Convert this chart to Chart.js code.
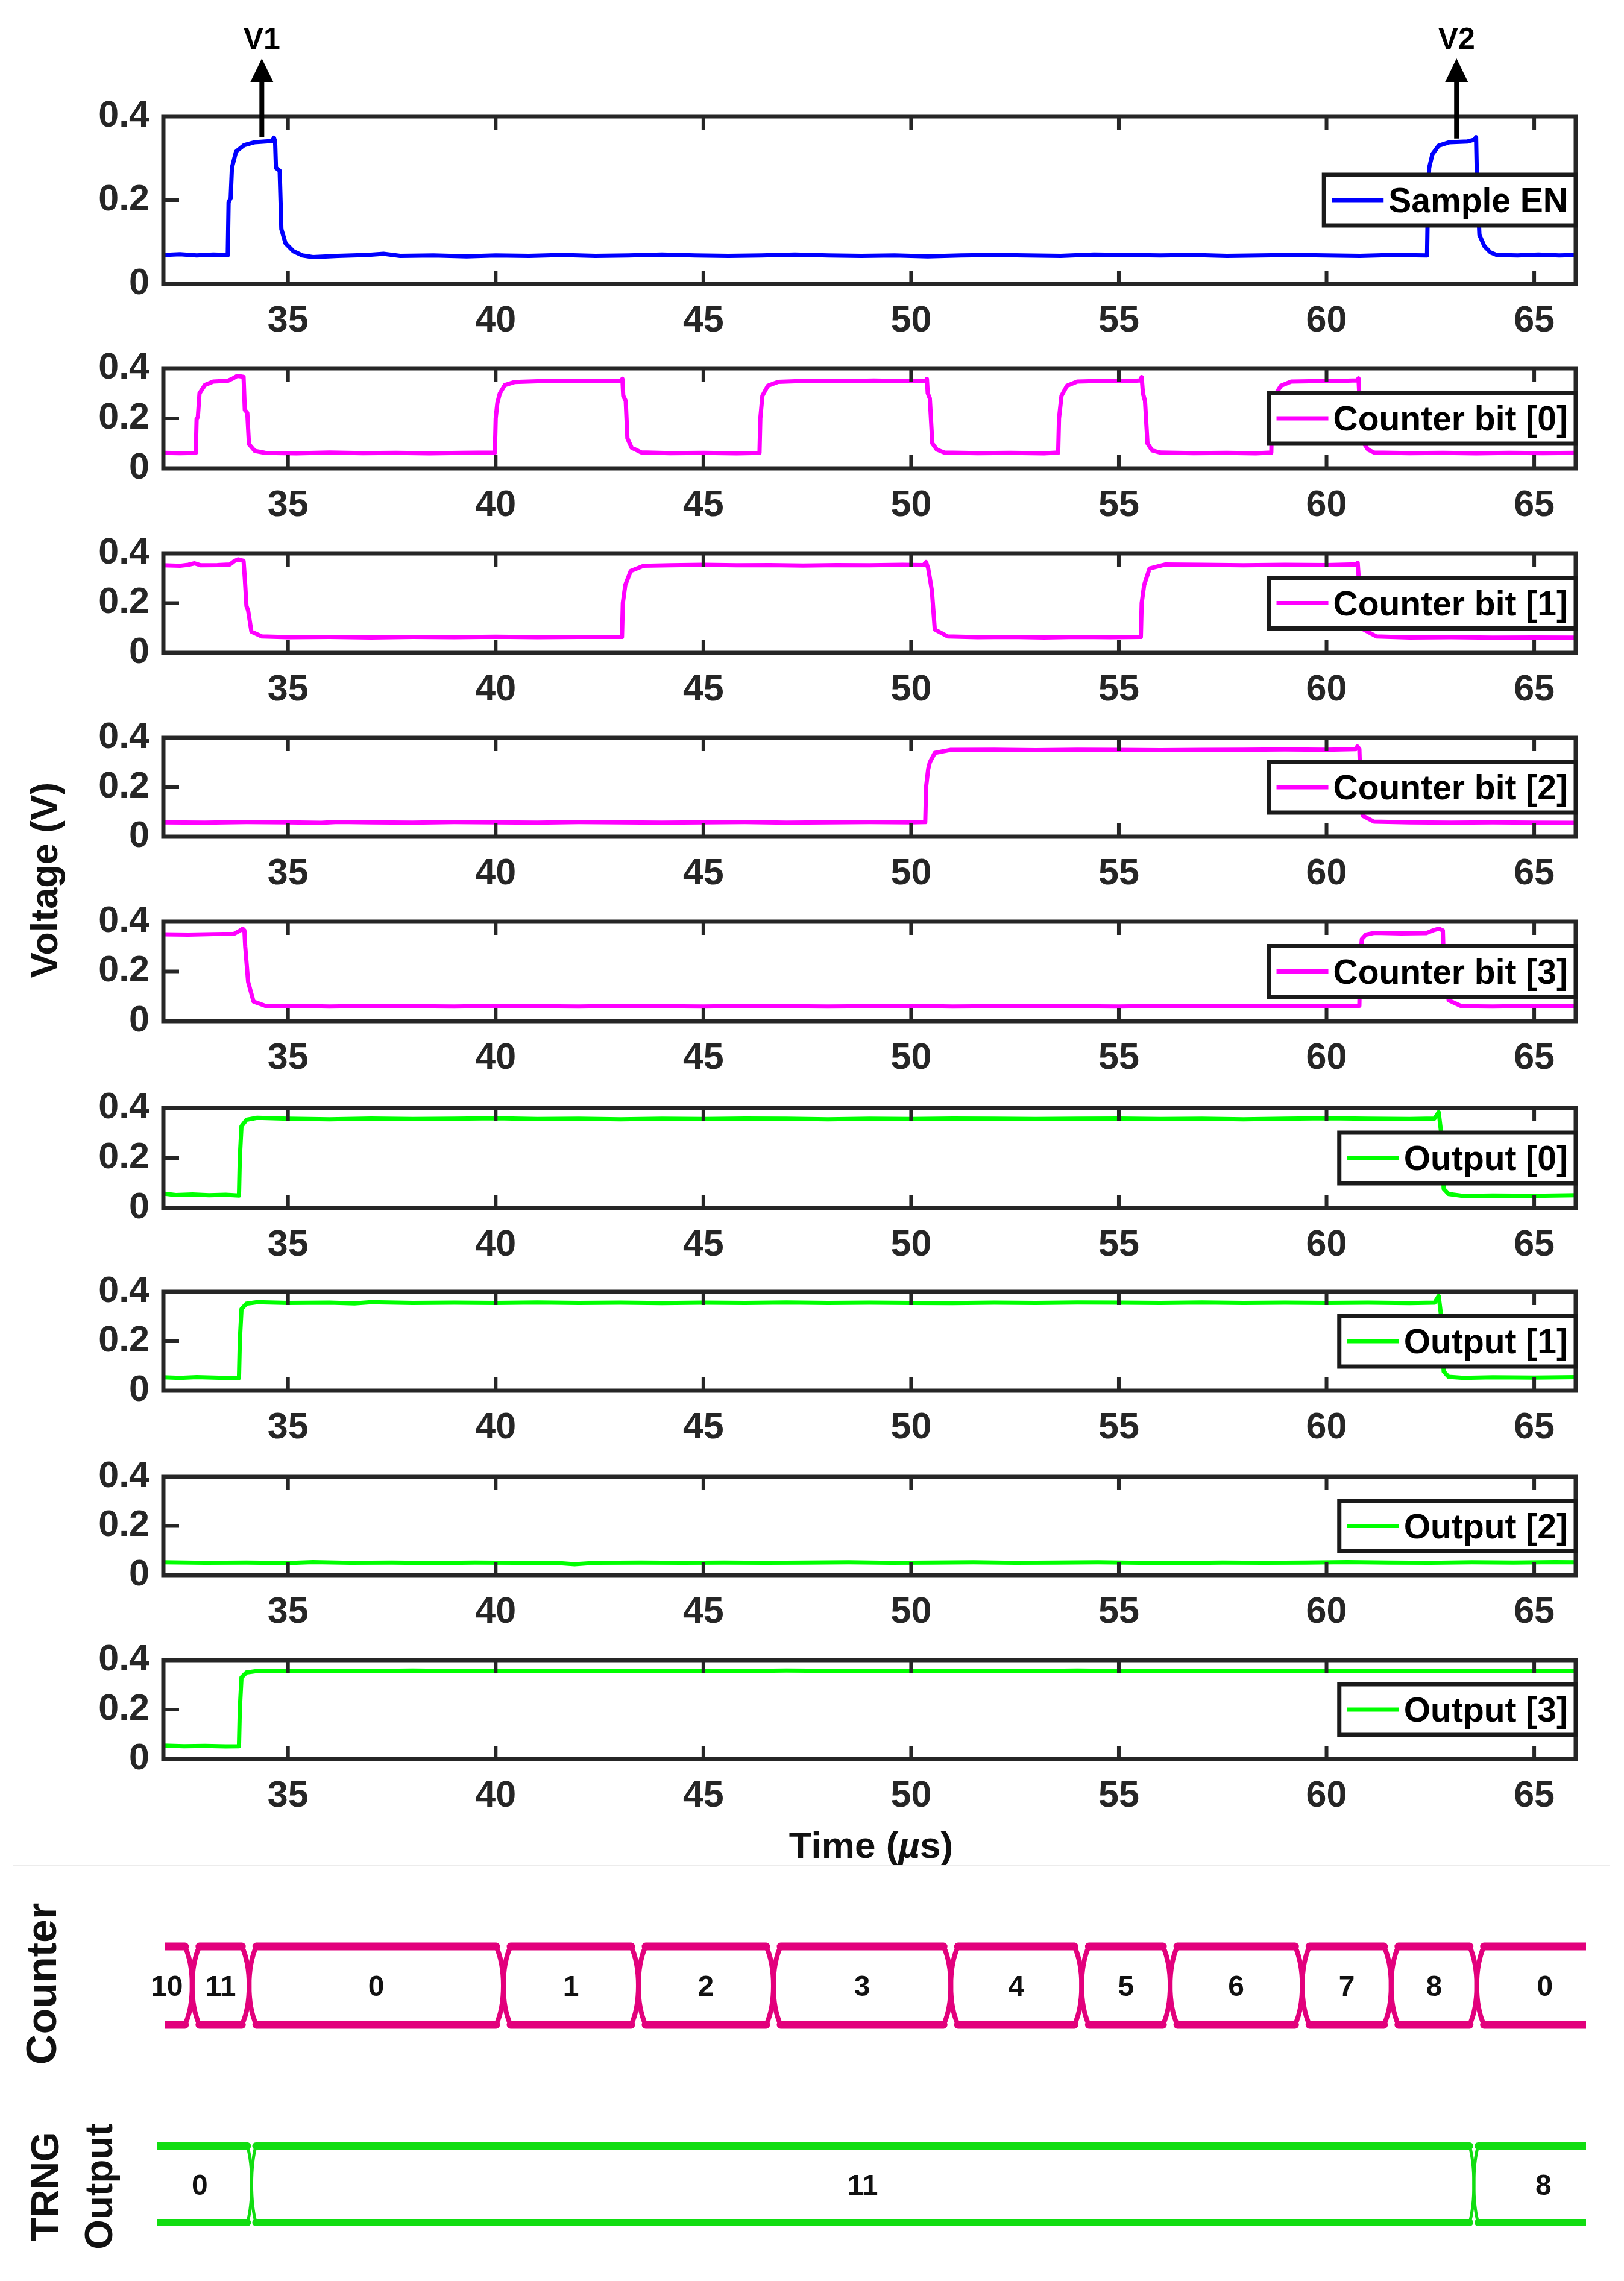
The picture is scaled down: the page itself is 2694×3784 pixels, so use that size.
<!DOCTYPE html>
<html>
<head>
<meta charset="utf-8">
<title>TRNG counter / output waveforms</title>
<script src="https://cdn.jsdelivr.net/npm/chart.js@4.4.1/dist/chart.umd.min.js"></script>
<style>
  html, body { margin: 0; padding: 0; background: #fff; }
  body { position: relative; width: 2694px; height: 3784px; overflow: hidden;
         font-family: "Liberation Sans", Arial, sans-serif; }
  canvas { position: absolute; left: 0; }
  .txt { position: absolute; font-weight: bold; color: #111; white-space: nowrap; }
  .vert { transform: translate(-50%, -50%) rotate(-90deg); text-align: center; }
</style>
</head>
<body>
<div class="txt vert" style="left:73px;top:1460px;font-size:63px;">Voltage (V)</div>
<div class="txt" style="left:1445px;top:3060px;font-size:62px;transform:translate(-50%,-50%);">Time (<i>µ</i>s)</div>
<div style="position:absolute;left:21px;top:3094px;width:2650px;height:2px;background:#ececec;"></div>
<div class="txt vert" style="left:69px;top:3291px;font-size:70px;">Counter</div>
<div class="txt vert" style="left:120px;top:3627px;font-size:64px;line-height:89px;">TRNG<br>Output</div>

<script>
/* -------------------- DATA -------------------- */
const xTicks = [35, 40, 45, 50, 55, 60, 65];
const yTicks = [0, 0.2, 0.4];
const yTickLabels = ["0", "0.2", "0.4"];

// [time (us), voltage (V)]
const sampleEn = [[32.00,0.069],[32.40,0.071],[32.80,0.068],[33.20,0.070],[33.55,0.069],[33.57,0.195],[33.62,0.205],[33.65,0.277],[33.75,0.316],[33.94,0.331],[34.19,0.338],[34.45,0.340],[34.62,0.341],[34.66,0.349],[34.69,0.340],[34.71,0.277],[34.80,0.270],[34.84,0.131],[34.94,0.097],[35.13,0.078],[35.35,0.068],[35.60,0.064],[36.20,0.067],[36.90,0.069],[37.30,0.072],[37.70,0.067],[38.50,0.068],[39.30,0.066],[40.00,0.068],[40.80,0.067],[41.60,0.069],[42.40,0.067],[43.20,0.068],[44.00,0.070],[44.80,0.068],[45.60,0.067],[46.40,0.068],[47.20,0.070],[48.00,0.068],[48.80,0.067],[49.60,0.068],[50.40,0.066],[51.20,0.068],[52.00,0.069],[52.80,0.068],[53.60,0.067],[54.40,0.070],[55.20,0.069],[56.00,0.068],[56.80,0.069],[57.60,0.067],[58.40,0.068],[59.20,0.069],[60.00,0.068],[60.80,0.067],[61.60,0.069],[62.42,0.068],[62.44,0.200],[62.47,0.277],[62.55,0.310],[62.70,0.330],[62.95,0.338],[63.40,0.340],[63.55,0.344],[63.60,0.350],[63.62,0.250],[63.68,0.117],[63.80,0.090],[63.95,0.075],[64.10,0.069],[64.60,0.068],[65.10,0.070],[65.60,0.068],[66.00,0.069]];

const counterBit0 = [[32.00,0.062],[32.40,0.061],[32.78,0.062],[32.80,0.198],[32.83,0.205],[32.87,0.300],[33.00,0.333],[33.20,0.347],[33.55,0.350],[33.68,0.360],[33.78,0.370],[33.93,0.366],[33.96,0.234],[34.02,0.222],[34.06,0.097],[34.20,0.070],[34.45,0.062],[35.20,0.060],[36.00,0.063],[36.80,0.061],[37.60,0.062],[38.40,0.060],[39.20,0.062],[39.98,0.063],[40.00,0.200],[40.04,0.262],[40.10,0.300],[40.22,0.333],[40.45,0.345],[41.00,0.348],[41.80,0.350],[42.60,0.348],[43.02,0.350],[43.05,0.358],[43.07,0.290],[43.13,0.270],[43.17,0.120],[43.27,0.083],[43.50,0.064],[44.20,0.061],[45.00,0.062],[45.80,0.060],[46.35,0.062],[46.37,0.200],[46.42,0.290],[46.55,0.330],[46.80,0.346],[47.50,0.350],[48.30,0.348],[49.10,0.351],[49.90,0.349],[50.35,0.350],[50.38,0.358],[50.40,0.300],[50.45,0.280],[50.51,0.100],[50.62,0.075],[50.80,0.063],[51.60,0.061],[52.40,0.062],[53.20,0.060],[53.54,0.063],[53.56,0.200],[53.62,0.290],[53.75,0.330],[54.00,0.347],[54.70,0.350],[55.30,0.349],[55.52,0.352],[55.55,0.365],[55.58,0.300],[55.63,0.270],[55.69,0.100],[55.80,0.072],[56.00,0.063],[56.80,0.061],[57.60,0.062],[58.30,0.060],[58.67,0.063],[58.69,0.210],[58.75,0.290],[58.90,0.330],[59.15,0.347],[59.80,0.349],[60.40,0.350],[60.74,0.352],[60.77,0.360],[60.79,0.290],[60.86,0.270],[60.90,0.100],[61.00,0.075],[61.15,0.063],[62.00,0.061],[62.80,0.062],[63.60,0.060],[64.40,0.062],[65.20,0.061],[66.00,0.062]];

const counterBit1 = [[32.00,0.352],[32.40,0.350],[32.60,0.354],[32.75,0.360],[32.90,0.352],[33.30,0.353],[33.60,0.355],[33.70,0.368],[33.80,0.376],[33.93,0.370],[33.96,0.300],[34.00,0.188],[34.04,0.170],[34.12,0.085],[34.37,0.066],[35.00,0.063],[36.00,0.064],[37.00,0.062],[38.00,0.064],[39.00,0.063],[40.00,0.065],[41.00,0.063],[42.00,0.064],[43.04,0.064],[43.06,0.200],[43.12,0.273],[43.25,0.329],[43.56,0.350],[44.20,0.352],[45.00,0.354],[45.80,0.352],[46.60,0.353],[47.40,0.351],[48.20,0.353],[49.00,0.352],[49.80,0.354],[50.30,0.353],[50.36,0.365],[50.41,0.340],[50.45,0.301],[50.50,0.250],[50.57,0.094],[50.88,0.066],[51.60,0.063],[52.40,0.064],[53.20,0.062],[54.00,0.064],[54.80,0.063],[55.53,0.064],[55.55,0.200],[55.61,0.273],[55.74,0.339],[56.11,0.355],[57.00,0.354],[58.00,0.352],[59.00,0.354],[60.00,0.353],[60.72,0.356],[60.75,0.362],[60.78,0.290],[60.84,0.270],[60.89,0.094],[61.20,0.066],[62.00,0.062],[63.00,0.063],[64.00,0.061],[65.00,0.062],[66.00,0.061]];

const counterBit2 = [[32.00,0.058],[33.00,0.057],[34.00,0.059],[35.00,0.058],[35.80,0.056],[36.20,0.060],[37.00,0.058],[38.00,0.057],[39.00,0.059],[40.00,0.058],[41.00,0.057],[42.00,0.059],[43.00,0.058],[44.00,0.057],[45.00,0.058],[46.00,0.059],[47.00,0.057],[48.00,0.058],[49.00,0.059],[50.00,0.058],[50.34,0.059],[50.36,0.200],[50.41,0.273],[50.45,0.301],[50.57,0.339],[50.94,0.351],[52.00,0.352],[53.00,0.350],[54.00,0.352],[55.00,0.351],[56.00,0.350],[57.00,0.351],[58.00,0.352],[59.00,0.353],[60.00,0.352],[60.70,0.354],[60.74,0.365],[60.79,0.355],[60.81,0.250],[60.87,0.085],[61.14,0.061],[62.00,0.058],[63.00,0.057],[64.00,0.058],[65.00,0.057],[66.00,0.056]];

const counterBit3 = [[32.00,0.349],[32.60,0.348],[33.20,0.350],[33.70,0.351],[33.85,0.365],[33.91,0.372],[33.95,0.365],[33.97,0.300],[34.04,0.158],[34.17,0.079],[34.48,0.060],[35.20,0.061],[36.00,0.059],[37.00,0.061],[38.00,0.060],[39.00,0.059],[40.00,0.061],[41.00,0.060],[42.00,0.059],[43.00,0.061],[44.00,0.060],[45.00,0.059],[46.00,0.061],[47.00,0.060],[48.00,0.059],[49.00,0.060],[50.00,0.061],[51.00,0.059],[52.00,0.060],[53.00,0.061],[54.00,0.060],[55.00,0.059],[56.00,0.061],[57.00,0.060],[58.00,0.062],[59.00,0.060],[60.00,0.061],[60.79,0.062],[60.81,0.250],[60.85,0.330],[60.95,0.348],[61.15,0.355],[61.80,0.353],[62.40,0.354],[62.56,0.365],[62.70,0.372],[62.80,0.365],[62.82,0.250],[62.94,0.084],[63.25,0.060],[64.00,0.059],[65.00,0.061],[66.00,0.060]];

const output0 = [[32.00,0.058],[32.30,0.052],[32.70,0.054],[33.10,0.051],[33.50,0.053],[33.82,0.050],[33.84,0.200],[33.88,0.327],[34.00,0.353],[34.26,0.361],[35.00,0.357],[36.00,0.355],[37.00,0.358],[38.00,0.356],[39.00,0.357],[40.00,0.359],[41.00,0.356],[42.00,0.357],[43.00,0.355],[44.00,0.357],[45.00,0.356],[46.00,0.358],[47.00,0.357],[48.00,0.355],[49.00,0.357],[50.00,0.356],[51.00,0.358],[52.00,0.357],[53.00,0.356],[54.00,0.357],[55.00,0.358],[56.00,0.356],[57.00,0.357],[58.00,0.355],[59.00,0.357],[60.00,0.359],[61.00,0.357],[62.00,0.356],[62.60,0.358],[62.70,0.383],[62.76,0.300],[62.82,0.077],[62.94,0.056],[63.30,0.048],[64.00,0.050],[65.00,0.049],[66.00,0.051]];

const output1 = [[32.00,0.054],[32.40,0.052],[32.80,0.055],[33.20,0.053],[33.60,0.051],[33.82,0.052],[33.84,0.200],[33.88,0.330],[34.00,0.352],[34.26,0.358],[35.00,0.355],[36.00,0.356],[36.60,0.353],[37.00,0.358],[38.00,0.355],[39.00,0.356],[40.00,0.355],[41.00,0.357],[42.00,0.355],[43.00,0.356],[44.00,0.354],[45.00,0.356],[46.00,0.355],[47.00,0.357],[48.00,0.355],[49.00,0.356],[50.00,0.355],[51.00,0.354],[52.00,0.356],[53.00,0.355],[54.00,0.357],[55.00,0.356],[56.00,0.355],[57.00,0.357],[58.00,0.355],[59.00,0.356],[60.00,0.355],[61.00,0.356],[62.00,0.354],[62.60,0.356],[62.70,0.383],[62.76,0.300],[62.82,0.078],[62.94,0.056],[63.30,0.052],[64.00,0.054],[65.00,0.053],[66.00,0.055]];

const output2 = [[32.00,0.052],[33.00,0.050],[34.00,0.051],[35.00,0.049],[35.60,0.053],[36.50,0.050],[37.50,0.051],[38.50,0.049],[39.50,0.051],[40.50,0.050],[41.50,0.049],[41.90,0.044],[42.40,0.050],[43.50,0.051],[44.50,0.050],[45.50,0.051],[46.50,0.050],[47.50,0.051],[48.50,0.052],[49.50,0.050],[50.50,0.051],[51.50,0.052],[52.50,0.050],[53.50,0.051],[54.50,0.052],[55.50,0.050],[56.50,0.049],[57.50,0.051],[58.50,0.050],[59.50,0.051],[60.50,0.053],[61.50,0.051],[62.50,0.050],[63.50,0.052],[64.50,0.051],[65.50,0.053],[66.00,0.052]];

const output3 = [[32.00,0.054],[32.50,0.052],[33.00,0.053],[33.50,0.051],[33.82,0.052],[33.84,0.200],[33.88,0.330],[34.00,0.350],[34.26,0.356],[35.00,0.355],[36.00,0.357],[37.00,0.356],[38.00,0.358],[39.00,0.356],[40.00,0.355],[41.00,0.357],[42.00,0.356],[43.00,0.357],[44.00,0.355],[45.00,0.357],[46.00,0.356],[47.00,0.358],[48.00,0.357],[49.00,0.356],[50.00,0.357],[51.00,0.355],[52.00,0.357],[53.00,0.356],[54.00,0.358],[55.00,0.356],[56.00,0.357],[57.00,0.356],[58.00,0.357],[59.00,0.355],[60.00,0.357],[61.00,0.356],[62.00,0.357],[63.00,0.356],[64.00,0.357],[65.00,0.355],[66.00,0.357]];

// sampling markers on the Sample EN trace
const markerTimes = [34.37, 63.13];
const markerLabels = ["V1", "V2"];
const markerBase = [0.350, 0.347];

// bus diagram: state change times (us) and the state held between them
const counterEdges = [31.47, 32.69, 34.06, 40.18, 43.43, 46.68, 50.95, 54.10, 56.23, 59.41, 61.55, 63.61, 66.89];
const counterValues = ["10", "11", "0", "1", "2", "3", "4", "5", "6", "7", "8", "0"];
const trngEdges = [31.62, 34.12, 63.54, 66.89];
const trngValues = ["0", "11", "8"];

/* -------------------- LAYOUT -------------------- */
const PAGE_W = 2694;
const PLOT_L = 271, PLOT_R = 2614;
const AXIS_H = 110;
const ink = "#262626";
const FONT = '"Liberation Sans", Arial, sans-serif';
const tickFont = { family: FONT, size: 61, weight: "bold" };

const panels = [
  { label: "Sample EN",       color: "#0000ff", data: sampleEn,    top: 193,  height: 278 },
  { label: "Counter bit [0]", color: "#ff00ff", data: counterBit0, top: 611,  height: 166 },
  { label: "Counter bit [1]", color: "#ff00ff", data: counterBit1, top: 918,  height: 165 },
  { label: "Counter bit [2]", color: "#ff00ff", data: counterBit2, top: 1224, height: 164 },
  { label: "Counter bit [3]", color: "#ff00ff", data: counterBit3, top: 1529, height: 165 },
  { label: "Output [0]",      color: "#00ff00", data: output0,     top: 1838, height: 166 },
  { label: "Output [1]",      color: "#00ff00", data: output1,     top: 2143, height: 164 },
  { label: "Output [2]",      color: "#00ff00", data: output2,     top: 2450, height: 163 },
  { label: "Output [3]",      color: "#00ff00", data: output3,     top: 2754, height: 164 }
];

Chart.defaults.font.family = FONT;

/* -------------------- AXES BOX / LEGEND / MARKERS -------------------- */
const matlabPlugin = {
  id: "matlab",
  afterDraw(chart, args, opts) {
    const { ctx, chartArea: a, scales: { x, y } } = chart;
    ctx.save();

    // inward ticks
    ctx.strokeStyle = ink;
    ctx.lineWidth = 6;
    ctx.beginPath();
    xTicks.forEach(v => {
      const px = x.getPixelForValue(v);
      ctx.moveTo(px, a.bottom); ctx.lineTo(px, a.bottom - 22);
      ctx.moveTo(px, a.top); ctx.lineTo(px, a.top + 22);
    });
    yTicks.forEach(v => {
      const py = y.getPixelForValue(v);
      ctx.moveTo(a.left, py); ctx.lineTo(a.left + 26, py);
    });
    ctx.stroke();

    // box
    ctx.lineWidth = 7;
    ctx.strokeRect(a.left, a.top, a.right - a.left, a.bottom - a.top);

    // legend, east
    const ds = chart.data.datasets[0];
    ctx.font = "bold 57px " + FONT;
    const tw = ctx.measureText(ds.label).width;
    const w = 13 + 86 + 8 + tw + 13, h = 84;
    const left = a.right - w, mid = (a.top + a.bottom) / 2, top = mid - h / 2;
    ctx.fillStyle = "#fff";
    ctx.fillRect(left, top, w, h);
    ctx.strokeStyle = "#1a1a1a";
    ctx.lineWidth = 7;
    ctx.strokeRect(left, top, w, h);
    ctx.strokeStyle = ds.borderColor;
    ctx.beginPath();
    ctx.moveTo(left + 13, mid); ctx.lineTo(left + 99, mid);
    ctx.stroke();
    ctx.fillStyle = "#000";
    ctx.textAlign = "left";
    ctx.textBaseline = "alphabetic";
    ctx.fillText(ds.label, left + 107, mid + 20);

    // V1 / V2 arrows
    if (opts.markers) {
      ctx.fillStyle = "#000";
      ctx.strokeStyle = "#000";
      ctx.font = "bold 50px " + FONT;
      ctx.textAlign = "center";
      markerTimes.forEach((t, i) => {
        const px = x.getPixelForValue(t);
        const py = y.getPixelForValue(markerBase[i]);
        ctx.lineWidth = 8;
        ctx.beginPath();
        ctx.moveTo(px, py); ctx.lineTo(px, a.top - 60);
        ctx.stroke();
        ctx.beginPath();
        ctx.moveTo(px, a.top - 96);
        ctx.lineTo(px - 19, a.top - 57);
        ctx.lineTo(px + 19, a.top - 57);
        ctx.closePath();
        ctx.fill();
        ctx.fillText(markerLabels[i], px, a.top - 112);
      });
    }
    ctx.restore();
  }
};

/* -------------------- WAVEFORM PANELS -------------------- */
panels.forEach((p, i) => {
  const padTop = i === 0 ? p.top : 60;
  const cv = document.createElement("canvas");
  cv.width = PAGE_W;
  cv.height = padTop + p.height + AXIS_H;
  cv.style.top = (p.top - padTop) + "px";
  document.body.appendChild(cv);

  new Chart(cv, {
    type: "line",
    data: {
      datasets: [{
        label: p.label,
        data: p.data.map(([x, y]) => ({ x, y })),
        borderColor: p.color,
        borderWidth: 7,
        pointRadius: 0,
        tension: 0,
        borderJoinStyle: "round",
        borderCapStyle: "round"
      }]
    },
    options: {
      responsive: false,
      animation: false,
      devicePixelRatio: 1,
      layout: { padding: { top: padTop, right: PAGE_W - PLOT_R, bottom: 0, left: 0 } },
      plugins: {
        legend: { display: false },
        tooltip: { enabled: false },
        matlab: { markers: i === 0 }
      },
      scales: {
        x: {
          type: "linear", min: 32, max: 66,
          afterBuildTicks: s => { s.ticks = xTicks.map(v => ({ value: v })); },
          afterFit: s => { s.height = AXIS_H; },
          grid: { display: false, drawTicks: false },
          border: { display: false },
          ticks: { font: tickFont, color: ink, padding: 26, maxRotation: 0, autoSkip: false,
                   callback: v => String(v) }
        },
        y: {
          min: 0, max: 0.4,
          afterBuildTicks: s => { s.ticks = yTicks.map(v => ({ value: v })); },
          afterFit: s => { s.width = PLOT_L; },
          grid: { display: false, drawTicks: false },
          border: { display: false },
          ticks: { font: tickFont, color: ink, padding: 23,
                   callback: (v, idx) => yTickLabels[idx] }
        }
      }
    },
    plugins: [matlabPlugin]
  });
});

/* -------------------- BUS DIAGRAM -------------------- */
const busPlugin = {
  id: "bus",
  afterDraw(chart, args, o) {
    const { ctx, chartArea: a, scales: { x, y } } = chart;
    const top = y.getPixelForValue(1), bot = y.getPixelForValue(0), mid = (top + bot) / 2;
    const px = o.edges.map(t => x.getPixelForValue(t));
    const h = o.skew, k = (bot - top) * 0.2;
    ctx.save();
    ctx.beginPath();
    ctx.rect(a.left, 0, a.right - a.left, chart.height);
    ctx.clip();
    ctx.strokeStyle = o.color;
    ctx.lineCap = "round";
    for (let i = 0; i < px.length - 1; i++) {
      const x0 = px[i], x1 = px[i + 1];
      ctx.lineWidth = o.rail;
      ctx.beginPath();
      ctx.moveTo(x0 + h, top); ctx.lineTo(x1 - h, top);
      ctx.moveTo(x0 + h, bot); ctx.lineTo(x1 - h, bot);
      ctx.stroke();
      ctx.lineWidth = o.edge;
      ctx.beginPath();
      ctx.moveTo(x0 + h, top);
      ctx.quadraticCurveTo(x0, top + k, x0, mid);
      ctx.quadraticCurveTo(x0, bot - k, x0 + h, bot);
      ctx.moveTo(x1 - h, top);
      ctx.quadraticCurveTo(x1, top + k, x1, mid);
      ctx.quadraticCurveTo(x1, bot - k, x1 - h, bot);
      ctx.stroke();
    }
    ctx.restore();

    ctx.save();
    ctx.fillStyle = "#111";
    ctx.font = "bold 48px " + FONT;
    ctx.textAlign = "center";
    ctx.textBaseline = "alphabetic";
    o.values.forEach((v, i) => {
      const xm = x.getPixelForValue((o.edges[i] + o.edges[i + 1]) / 2);
      ctx.fillText(v, xm, mid + 17);
    });
    ctx.restore();
  }
};

const lanes = [
  { edges: counterEdges, values: counterValues, color: "#e2007c", rail: 13, edge: 8, skew: 12,
    top: 3229, height: 130, left: 274, min: 32.04, max: 66.24 },
  { edges: trngEdges, values: trngValues, color: "#11dd11", rail: 12, edge: 5, skew: 7,
    top: 3560, height: 127, left: 261, min: 31.85, max: 66.24 }
];

lanes.forEach(l => {
  const pad = 70;
  const cv = document.createElement("canvas");
  cv.width = PAGE_W;
  cv.height = l.height + 2 * pad;
  cv.style.top = (l.top - pad) + "px";
  document.body.appendChild(cv);
  new Chart(cv, {
    type: "line",
    data: { datasets: [] },
    options: {
      responsive: false,
      animation: false,
      devicePixelRatio: 1,
      layout: { padding: { top: pad, bottom: pad, left: l.left, right: PAGE_W - 2631 } },
      plugins: { legend: { display: false }, tooltip: { enabled: false }, bus: l },
      scales: {
        x: { type: "linear", min: l.min, max: l.max, display: false },
        y: { min: 0, max: 1, display: false }
      }
    },
    plugins: [busPlugin]
  });
});
</script>
</body>
</html>
